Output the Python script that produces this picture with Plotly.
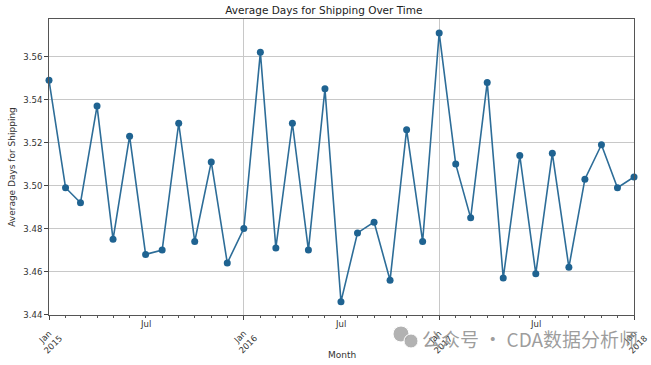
import pandas as pd
import plotly.graph_objects as go

months = list(pd.date_range("2015-01-01", periods=37, freq="MS"))
avg_days = [3.549, 3.499, 3.492, 3.537, 3.475, 3.523, 3.468, 3.470, 3.529, 3.474, 3.511, 3.464,
            3.480, 3.562, 3.471, 3.529, 3.470, 3.545, 3.446, 3.478, 3.483, 3.456, 3.526, 3.474,
            3.571, 3.510, 3.485, 3.548, 3.457, 3.514, 3.459, 3.515, 3.462, 3.503, 3.519, 3.499,
            3.504]
jan_ticks = ["2015-01-01", "2016-01-01", "2017-01-01", "2018-01-01"]
jan_labels = ["Jan<br>2015", "Jan<br>2016", "Jan<br>2017", "Jan<br>2018"]
jul_ticks = ["2015-07-01", "2016-07-01", "2017-07-01"]
jul_labels = ["Jul", "Jul", "Jul"]
y_ticks = [3.44, 3.46, 3.48, 3.50, 3.52, 3.54, 3.56]

W, H = 651, 365
L, R, T, B = 49, 17, 19, 50
PW, PH = W - L - R, H - T - B

def px_x(x):
    return (x - L) / PW

def px_y(y):
    return (H - B - y) / PH

font = "DejaVu Sans"
fig = go.Figure()
fig.add_trace(go.Scatter(
    x=months, y=avg_days, mode="lines+markers",
    line=dict(color="#2d6d98", width=1.6),
    marker=dict(color="#1f6391", size=7),
    showlegend=False, cliponaxis=False,
))

annotations = []
for d, t in zip(jan_ticks, jan_labels):
    annotations.append(dict(x=d, xref="x", y=-0.085, yref="paper", text=t, textangle=-45,
                            showarrow=False, xanchor="center", yanchor="middle",
                            font=dict(family=font, size=8.5, color="#333")))
for d, t in zip(jul_ticks, jul_labels):
    annotations.append(dict(x=d, xref="x", y=-0.03, yref="paper", text=t,
                            showarrow=False, xanchor="center", yanchor="middle",
                            font=dict(family=font, size=8.5, color="#333")))
annotations.append(dict(x=0.5, xref="paper", y=px_y(355), yref="paper", text="Month",
                        showarrow=False, xanchor="center", yanchor="middle",
                        font=dict(family=font, size=9, color="#333")))
annotations.append(dict(x=px_x(530), xref="paper", y=px_y(338), yref="paper",
                        text="公众号 · CDA数据分析师", showarrow=False,
                        xanchor="center", yanchor="middle",
                        font=dict(family="Noto Sans CJK SC", size=19, color="rgba(140,140,140,0.85)")))

shapes = []
for cx, cy, r in [(401, 334, 8), (411, 341, 7)]:
    shapes.append(dict(type="circle", xref="paper", yref="paper",
                       x0=px_x(cx - r), x1=px_x(cx + r), y0=px_y(cy + r), y1=px_y(cy - r),
                       fillcolor="rgba(170,170,170,0.9)", line=dict(color="white", width=1)))

fig.update_layout(
    width=W, height=H,
    margin=dict(l=L, r=R, t=T, b=B, autoexpand=False),
    paper_bgcolor="white", plot_bgcolor="white",
    title=dict(text="Average Days for Shipping Over Time", x=px_x(340), xanchor="center",
               y=1 - 10 / H, yanchor="middle", font=dict(family=font, size=10.5, color="#222")),
    xaxis=dict(type="date", range=["2015-01-01", "2018-01-01"],
               tickvals=jan_ticks, showticklabels=False,
               ticks="outside", ticklen=4, tickcolor="#444",
               showgrid=True, gridcolor="#c8c8c8", gridwidth=1,
               showline=True, linecolor="#555", linewidth=1, mirror=True, zeroline=False,
               minor=dict(dtick="M1", tick0="2015-01-01", ticks="outside", ticklen=2,
                          tickcolor="#555", showgrid=False)),
    yaxis=dict(range=[3.4398, 3.5775], tickvals=y_ticks, tickformat=".2f",
               ticks="outside", ticklen=4, tickcolor="#444",
               tickfont=dict(family=font, size=8.5, color="#333"),
               showgrid=True, gridcolor="#c8c8c8", gridwidth=1,
               showline=True, linecolor="#555", linewidth=1, mirror=True, zeroline=False,
               title=dict(text="Average Days for Shipping", standoff=6,
                          font=dict(family=font, size=9, color="#333"))),
    annotations=annotations,
    shapes=shapes,
)

fig.write_html("out.html", config={"displayModeBar": False},
               post_script="document.body.style.margin='0';")
